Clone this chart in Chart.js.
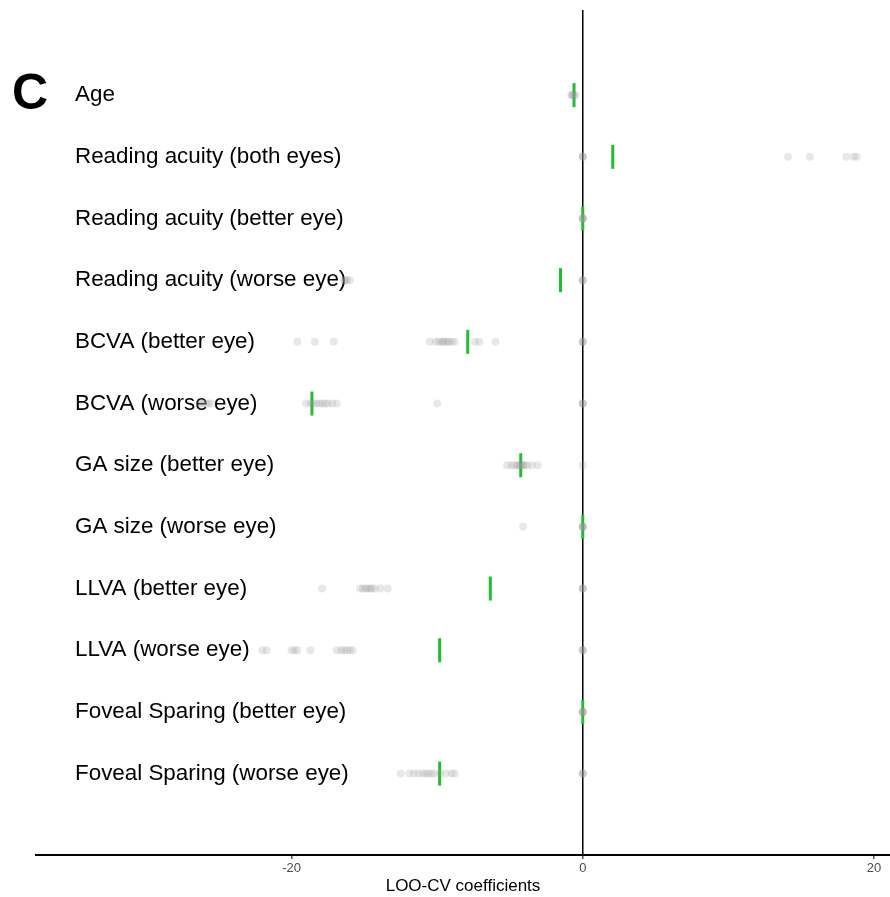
<!DOCTYPE html>
<html>
<head>
<meta charset="utf-8">
<script src="https://cdn.jsdelivr.net/npm/chart.js@4.4.0/dist/chart.umd.min.js"></script>
<style>
  html, body { margin: 0; padding: 0; background: #fff; overflow: hidden; }
  #wrap { position: relative; width: 890px; height: 897px; }
  #wrap canvas { display: block; }
  #panel { position: absolute; left: 12px; top: 63px; font: bold 50px "Liberation Sans", Arial, sans-serif; color: #000; }
</style>
</head>
<body>
<div id="wrap">
  <canvas id="c" width="890" height="897"></canvas>
  <div id="panel">C</div>
</div>
<script>
// LOO-CV coefficient spread per predictor; green tick = full-model coefficient
const rows = [
  "Age", "Reading acuity (both eyes)", "Reading acuity (better eye)", "Reading acuity (worse eye)",
  "BCVA (better eye)", "BCVA (worse eye)", "GA size (better eye)", "GA size (worse eye)",
  "LLVA (better eye)", "LLVA (worse eye)", "Foveal Sparing (better eye)", "Foveal Sparing (worse eye)"
];
const age = [-0.8, -0.7, -0.6, -0.5, -0.7];
const readBoth = [0, 0, 0, 14.1, 15.6, 18.1, 18.6, 18.8];
const readBetter = [0, 0, 0, 0];
const readWorse = [0, 0, 0, -16.4, -16.3, -16.2, -16.0];
const bcvaBetter = [0, 0, 0, -19.6, -18.4, -17.1, -10.5, -10.1, -9.9, -9.7, -9.6, -9.5, -9.3, -9.2, -9.0, -8.8, -7.4, -7.1, -6.0];
const bcvaWorse = [0, 0, 0, -26.3, -26.1, -25.9, -25.7, -25.5, -19.0, -18.7, -18.5, -18.3, -18.1, -17.9, -17.7, -17.5, -17.2, -16.9, -10.0];
const gaBetter = [0, -5.2, -4.9, -4.7, -4.5, -4.4, -4.3, -4.2, -4.1, -4.0, -3.8, -3.5, -3.1];
const gaWorse = [0, 0, 0, 0, -4.1];
const llvaBetter = [0, 0, 0, -17.9, -15.3, -15.1, -14.9, -14.8, -14.6, -14.5, -14.3, -13.9, -13.4];
const llvaWorse = [0, 0, 0, -22.0, -21.7, -20.0, -19.8, -19.6, -18.7, -16.9, -16.6, -16.4, -16.2, -16.0, -15.8];
const fovBetter = [0, 0, 0, 0];
const fovWorse = [0, 0, 0, -12.5, -11.9, -11.6, -11.3, -11.0, -10.8, -10.6, -10.4, -10.2, -9.8, -9.4, -9.0, -8.8];
const coef = [-0.6, 2.06, 0.0, -1.53, -7.9, -18.6, -4.26, 0.0, -6.35, -9.83, 0.0, -9.83];
const xTicks = [-20, 0, 20];

const loo = [age, readBoth, readBetter, readWorse, bcvaBetter, bcvaWorse, gaBetter, gaWorse, llvaBetter, llvaWorse, fovBetter, fovWorse];
const grayPts = loo.flatMap((arr, i) => arr.map(v => ({ x: v, y: i })));
const greenPts = coef.map((v, i) => ({ x: v, y: i }));
const FONT = '"Liberation Sans", Arial, Helvetica, sans-serif';

new Chart(document.getElementById("c"), {
  type: "scatter",
  data: {
    datasets: [
      { data: grayPts, pointRadius: 4, pointHoverRadius: 4, backgroundColor: "rgba(150,150,150,0.22)", borderWidth: 0 },
      { data: greenPts, pointStyle: "line", rotation: 90, pointRadius: 12, pointHoverRadius: 12, borderColor: "#1fbf2f", borderWidth: 3 },
    ]
  },
  options: {
    responsive: false, animation: false, devicePixelRatio: 1,
    layout: { autoPadding: false, padding: { top: 10, right: 0, left: 0, bottom: 0 } },
    plugins: { legend: { display: false }, tooltip: { enabled: false } },
    scales: {
      x: {
        min: -37.55, max: 21.1,
        afterBuildTicks: s => { s.ticks = xTicks.map(v => ({ value: v })); },
        afterFit: s => { s.height = 42; s.paddingLeft = 0; s.paddingRight = 0; },
        border: { display: true, color: "#000", width: 2 },
        grid: { color: c => (c.tick && c.tick.value === 0 ? "#000" : "rgba(0,0,0,0)"), lineWidth: 1.5, tickColor: "#555", tickLength: 4 },
        ticks: { color: "#4d4d4d", font: { family: FONT, size: 13 }, padding: 2 },
        title: { display: true, text: "LOO-CV coefficients", color: "#000", font: { family: FONT, size: 17 }, padding: { top: 0, bottom: 0 } },
      },
      y: {
        reverse: true, min: -1.38, max: 12.32, z: 1,
        afterBuildTicks: s => { s.ticks = rows.map((_, i) => ({ value: i })); },
        afterFit: s => { s.width = 36; s.paddingTop = 0; s.paddingBottom = 0; },
        border: { display: false },
        grid: { display: false },
        ticks: { mirror: true, padding: 39, color: "#000", font: { family: FONT, size: 22.4 }, callback: v => rows[v] },
      }
    }
  }
});
</script>
</body>
</html>
